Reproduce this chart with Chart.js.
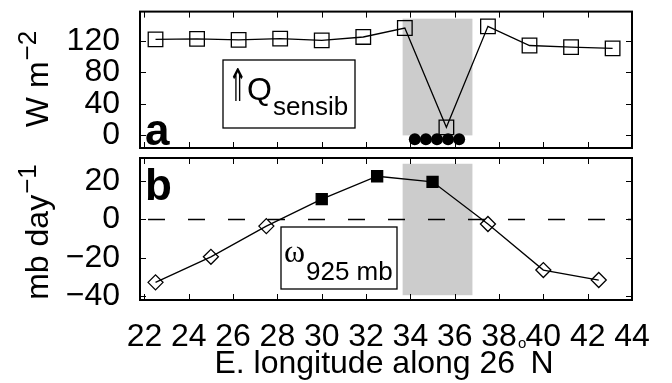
<!DOCTYPE html>
<html>
<head>
<meta charset="utf-8">
<script src="https://cdn.jsdelivr.net/npm/chart.js@4/dist/chart.umd.min.js"></script>
<style>
  html, body { margin: 0; padding: 0; background: #fff; }
  #wrap { position: relative; width: 672px; height: 383px; }
  #wrap canvas { position: absolute; left: 0; top: 0; }
</style>
</head>
<body>
<div id="wrap">
  <canvas id="fluxChart" width="672" height="383"></canvas>
  <canvas id="omegaChart" width="672" height="383"></canvas>
</div>
<script>
// Painel a: fluxo de calor sensível (W m-2)
const fluxLon = [22.5, 24.375, 26.25, 28.125, 30, 31.875, 33.75, 35.625, 37.5, 39.375, 41.25, 43.125];
const fluxValues = [121.7, 122.4, 121.2, 122.7, 120.5, 124.8, 136.2, 10.2, 138.3, 114.0, 112.0, 110.4];
const dotLon = [34.2, 34.7, 35.2, 35.7, 36.2];
const dotValues = [-5, -5, -5, -5, -5];

// Painel b: omega em 925 mb (mb/dia)
const omegaLon = [22.5, 25, 27.5, 30, 32.5, 35, 37.5, 40, 42.5];
const omegaValues = [-32.8, -19.5, -3.5, 10.6, 22.5, 19.6, -2.4, -26.4, -31.6];
const omegaFilled = [false, false, false, true, true, true, false, false, false];

// Eixos e faixa sombreada
const lonTicks = [22, 24, 26, 28, 30, 32, 34, 36, 38, 40, 42, 44];
const fluxTicks = [0, 40, 80, 120];
const omegaTicks = [-40, -20, 0, 20];
const shadeLon = [33.65, 36.8];
const fluxShade = [0, 148];
const omegaShade = [-39.5, 29];

const FONT = '"Liberation Sans", Arial, Helvetica, sans-serif';
const MINUS = '\u2212';

function txt(ctx, s, font, x, y, align) {
    ctx.font = font;
    ctx.textAlign = align || 'left';
    ctx.textBaseline = 'alphabetic';
    ctx.fillText(s, x, y);
}

// Texto com expoente, girado para os títulos do eixo y
function richText(ctx, parts, x, y, rotate) {
    ctx.save();
    ctx.translate(x, y);
    if (rotate) ctx.rotate(rotate);
    ctx.fillStyle = '#000';
    ctx.textAlign = 'left';
    ctx.textBaseline = 'alphabetic';
    const widths = parts.map(p => { ctx.font = p.font; return ctx.measureText(p.text).width; });
    const total = widths.reduce((s, w, i) => s + w + (parts[i].gap || 0), 0);
    let cx = -total / 2;
    parts.forEach((p, i) => {
        ctx.font = p.font;
        ctx.fillText(p.text, cx, -(p.rise || 0));
        cx += widths[i] + (p.gap || 0);
    });
    ctx.restore();
}

function fixedAxis(size, horizontal) {
    return function(scale) {
        if (horizontal) scale.height = size; else scale.width = size;
        scale.paddingTop = 0; scale.paddingBottom = 0;
        scale.paddingLeft = 0; scale.paddingRight = 0;
    };
}

function setTicks(values) {
    return function(scale) {
        scale.ticks = values.map(v => ({ value: v }));
    };
}

// Moldura, ticks internos, faixa cinza e rótulos de cada painel
const panelPlugin = {
    id: 'panel',
    beforeDatasetsDraw(chart, args, opts) {
        const { ctx, chartArea: a, scales: { x, y } } = chart;
        ctx.save();
        ctx.fillStyle = '#cccccc';
        const x0 = x.getPixelForValue(shadeLon[0]);
        const x1 = x.getPixelForValue(shadeLon[1]);
        const y0 = y.getPixelForValue(opts.shade[1]);
        const y1 = y.getPixelForValue(opts.shade[0]);
        ctx.fillRect(x0, y0, x1 - x0, y1 - y0);
        if (opts.zeroLine) {
            const yz = Math.round(y.getPixelForValue(0)) + 0.5;
            ctx.strokeStyle = '#000';
            ctx.lineWidth = 1.3;
            ctx.setLineDash([17, 23]);
            ctx.lineDashOffset = 32;
            ctx.beginPath();
            ctx.moveTo(a.left, yz);
            ctx.lineTo(a.right, yz);
            ctx.stroke();
        }
        ctx.restore();
    },
    afterDatasetsDraw(chart, args, opts) {
        const { ctx, chartArea: a, scales: { x, y } } = chart;
        ctx.save();
        ctx.strokeStyle = '#000';
        ctx.fillStyle = '#000';

        // ticks para dentro nos quatro lados
        ctx.lineWidth = 1;
        ctx.beginPath();
        x.ticks.forEach(t => {
            const px = Math.round(x.getPixelForValue(t.value)) + 0.5;
            ctx.moveTo(px, a.bottom); ctx.lineTo(px, a.bottom - 6);
            ctx.moveTo(px, a.top); ctx.lineTo(px, a.top + 6);
        });
        y.ticks.forEach(t => {
            const py = Math.round(y.getPixelForValue(t.value)) + 0.5;
            ctx.moveTo(a.left, py); ctx.lineTo(a.left + 6, py);
            ctx.moveTo(a.right, py); ctx.lineTo(a.right - 6, py);
        });
        ctx.stroke();

        ctx.lineWidth = 2;
        ctx.strokeRect(a.left, a.top, a.right - a.left, a.bottom - a.top);

        // caixa da legenda
        const b = opts.box;
        ctx.fillStyle = '#fff';
        ctx.fillRect(b.x, b.y, b.w, b.h);
        ctx.lineWidth = 1.3;
        ctx.strokeRect(b.x, b.y, b.w, b.h);
        ctx.fillStyle = '#000';
        opts.drawLabel(ctx);

        // letra do painel
        txt(ctx, opts.letter, 'bold 44px ' + FONT, a.left + 5, opts.letterY);

        // título do eixo y
        richText(ctx, opts.yTitle, 48, opts.yTitleY, -Math.PI / 2);
        ctx.restore();
    }
};

const baseOptions = {
    responsive: false,
    animation: false,
    events: [],
    plugins: { legend: { display: false }, tooltip: { enabled: false } }
};

// Gráfico do fluxo de calor sensível
new Chart(document.getElementById('fluxChart').getContext('2d'), {
    type: 'line',
    data: {
        datasets: [{
            data: dotLon.map((v, i) => ({ x: v, y: dotValues[i] })),
            showLine: false,
            pointStyle: 'circle',
            pointRadius: 6,
            pointBorderWidth: 0,
            pointBackgroundColor: '#000',
            pointBorderColor: '#000'
        }, {
            data: fluxLon.map((v, i) => ({ x: v, y: fluxValues[i] })),
            borderColor: '#000',
            borderWidth: 1.3,
            tension: 0,
            fill: false,
            pointStyle: 'rect',
            pointRadius: 10.3,
            pointBorderWidth: 1.3,
            pointBorderColor: '#000',
            pointBackgroundColor: 'rgba(0,0,0,0)'
        }]
    },
    options: {
        ...baseOptions,
        layout: { padding: { left: 0, top: 8, right: 40, bottom: 235 } },
        scales: {
            x: {
                type: 'linear', min: 21.8, max: 44, display: false,
                afterBuildTicks: setTicks(lonTicks)
            },
            y: {
                type: 'linear', min: -16, max: 157,
                grid: { display: false }, border: { display: false },
                afterBuildTicks: setTicks(fluxTicks),
                afterFit: fixedAxis(140, false),
                ticks: { color: '#000', padding: 12, font: { family: FONT, size: 32 } }
            }
        },
        plugins: {
            ...baseOptions.plugins,
            panel: {
                shade: fluxShade,
                zeroLine: false,
                letter: 'a',
                letterY: 145,
                box: { x: 223, y: 60, w: 132, h: 68 },
                drawLabel(ctx) {
                    ctx.save();
                    ctx.translate(228, 101);
                    ctx.scale(0.52, 1);
                    txt(ctx, '\u21D1', '45px "DejaVu Sans"', 0, 0);
                    ctx.restore();
                    txt(ctx, 'Q', '32px ' + FONT, 247, 100);
                    txt(ctx, 'sensib', '26px ' + FONT, 273, 115);
                },
                yTitle: [
                    { text: 'W m', font: '32px ' + FONT, gap: 1 },
                    { text: MINUS + '2', font: '26px ' + FONT, rise: 12 }
                ],
                yTitleY: 79
            }
        }
    },
    plugins: [panelPlugin]
});

// Gráfico de omega em 925 mb
new Chart(document.getElementById('omegaChart').getContext('2d'), {
    type: 'line',
    data: {
        datasets: [{
            data: omegaLon.map((v, i) => ({ x: v, y: omegaValues[i] })),
            borderColor: '#000',
            borderWidth: 1.3,
            tension: 0,
            fill: false,
            pointStyle: omegaFilled.map(f => f ? 'rect' : 'rectRot'),
            pointRadius: omegaFilled.map(f => f ? 7.8 : 7.5),
            pointBorderWidth: 1.3,
            pointBorderColor: '#000',
            pointBackgroundColor: omegaFilled.map(f => f ? '#000' : 'rgba(0,0,0,0)')
        }]
    },
    options: {
        ...baseOptions,
        layout: { padding: { left: 0, top: 158, right: 40, bottom: 0 } },
        scales: {
            x: {
                type: 'linear', min: 21.8, max: 44,
                grid: { display: false }, border: { display: false },
                afterBuildTicks: setTicks(lonTicks),
                afterFit: fixedAxis(83, true),
                ticks: {
                    color: '#000', padding: 10, autoSkip: false, maxRotation: 0,
                    font: { family: FONT, size: 32 }
                }
            },
            y: {
                type: 'linear', min: -42, max: 32,
                grid: { display: false }, border: { display: false },
                afterBuildTicks: setTicks(omegaTicks),
                afterFit: fixedAxis(140, false),
                ticks: {
                    color: '#000', padding: 12, font: { family: FONT, size: 32 },
                    callback: v => String(v).replace('-', MINUS)
                }
            }
        },
        plugins: {
            ...baseOptions.plugins,
            panel: {
                shade: omegaShade,
                zeroLine: true,
                letter: 'b',
                letterY: 200,
                box: { x: 281, y: 227, w: 116, h: 62 },
                drawLabel(ctx) {
                    txt(ctx, '\u03C9', '32px "Liberation Serif", serif', 284, 262);
                    txt(ctx, '925 mb', '26px ' + FONT, 306, 280);
                },
                yTitle: [
                    { text: 'mb day', font: '32px ' + FONT, gap: 1 },
                    { text: MINUS + '1', font: '26px ' + FONT, rise: 12 }
                ],
                yTitleY: 232
            }
        }
    },
    plugins: [panelPlugin, {
        // título do eixo x com o símbolo de grau em expoente
        id: 'xTitle',
        afterDraw(chart) {
            const ctx = chart.ctx;
            ctx.save();
            ctx.fillStyle = '#000';
            richText(ctx, [
                { text: 'E. longitude along 26', font: '32px ' + FONT, gap: 3 },
                { text: 'o', font: '15px ' + FONT, rise: 25, gap: 4 },
                { text: 'N', font: '32px ' + FONT }
            ], 384, 373, 0);
            ctx.restore();
        }
    }]
});
</script>
</body>
</html>
